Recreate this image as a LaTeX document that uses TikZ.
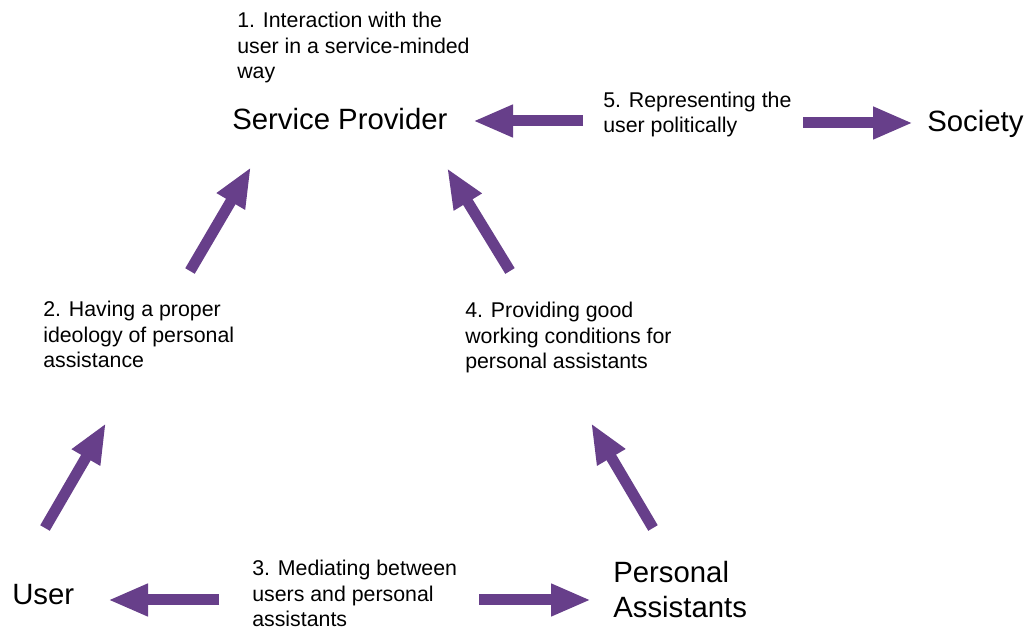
\documentclass[tikz,border=0pt]{standalone}
\usepackage{fontspec}
\setmainfont{Liberation Sans}
\usetikzlibrary{arrows.meta}
\definecolor{roleviolet}{RGB}{103,63,138}
\tikzset{
  party/.style={font=\fontsize{22}{26.25}\selectfont,anchor=base west,inner sep=0pt,align=left},
  duty/.style={font=\fontsize{16}{19.2}\selectfont,anchor=base west,inner sep=0pt,align=left},
  fat/.style={draw=roleviolet,line width=8.25pt,-{Triangle[length=30pt,width=22.5pt]}}
}

\begin{document}
\begin{tikzpicture}[x=0.75pt,y=-0.75pt]
 \useasboundingbox (0,0) rectangle (1026,630);
 % the parties (base = last line)
 \node[party] (provider) at (232,130) {Service Provider};
 \node[party] (society)  at (927,132) {Society};
 \node[party] (user)     at (12,605)  {User};
 \node[party] (assist)   at (613,618) {Personal\\Assistants};
 % the duties
 \node[duty] (duty1) at (237,79)  {1. Interaction with the\\user in a service-minded\\way};
 \node[duty] (duty2) at (43,368)  {2. Having a proper\\ideology of personal\\assistance};
 \node[duty] (duty3) at (252,627) {3. Mediating between\\users and personal\\assistants};
 \node[duty] (duty4) at (465,369) {4. Providing good\\working conditions for\\personal assistants};
 \node[duty] (duty5) at (603,133) {5. Representing the\\user politically};
 % arrow ends
 \coordinate (userA)    at (45,528);  \coordinate (duty2B)   at (106,423);
 \coordinate (duty2A)   at (190,271); \coordinate (provB)    at (251,167);
 \coordinate (assistA)  at (653,528); \coordinate (duty4B)   at (591,423);
 \coordinate (duty4A)   at (510,271); \coordinate (provC)    at (447,168);
 \coordinate (duty3L)   at (219,600); \coordinate (userB)    at (108,600);
 \coordinate (duty3R)   at (479,600); \coordinate (assistB)  at (591,600);
 \coordinate (duty5L)   at (583,121); \coordinate (provD)    at (473,121);
 \coordinate (duty5R)   at (803,123); \coordinate (societyB) at (913,123);
 \draw[fat] (userA) -- (duty2B);
 \draw[fat] (duty2A) -- (provB);
 \draw[fat] (assistA) -- (duty4B);
 \draw[fat] (duty4A) -- (provC);
 \draw[fat] (duty3L) -- (userB);
 \draw[fat] (duty3R) -- (assistB);
 \draw[fat] (duty5L) -- (provD);
 \draw[fat] (duty5R) -- (societyB);
\end{tikzpicture}
\end{document}
